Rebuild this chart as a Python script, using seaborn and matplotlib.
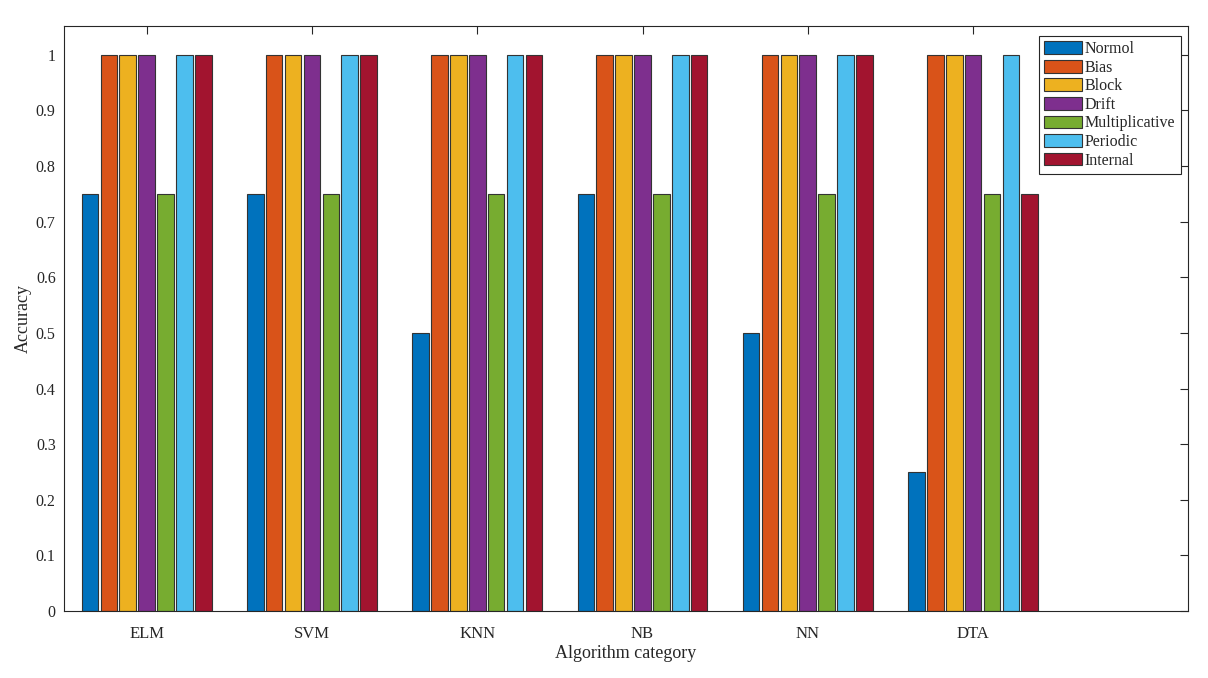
import matplotlib
matplotlib.use("Agg")
import matplotlib.pyplot as plt
import seaborn as sns
import pandas as pd

categories = ["ELM", "SVM", "KNN", "NB", "NN", "DTA"]
series = ["Normol", "Bias", "Block", "Drift", "Multiplicative", "Periodic", "Internal"]
normol = [0.75, 0.75, 0.5, 0.75, 0.5, 0.25]
bias = [1, 1, 1, 1, 1, 1]
block = [1, 1, 1, 1, 1, 1]
drift = [1, 1, 1, 1, 1, 1]
multiplicative = [0.75, 0.75, 0.75, 0.75, 0.75, 0.75]
periodic = [1, 1, 1, 1, 1, 1]
internal = [1, 1, 1, 1, 1, 0.75]
colors = ["#0072BD", "#D95319", "#EDB120", "#7E2F8E", "#77AC30", "#4DBEEE", "#A2142F"]
yticks = [0, 0.1, 0.2, 0.3, 0.4, 0.5, 0.6, 0.7, 0.8, 0.9, 1]

vals = [normol, bias, block, drift, multiplicative, periodic, internal]
rows = []
for s, v in zip(series, vals):
    for c, y in zip(categories, v):
        rows.append({"Algorithm": c, "Series": s, "Accuracy": y})
df = pd.DataFrame(rows)

sns.set_style("white")
plt.rcParams["font.family"] = ["Liberation Serif", "DejaVu Serif"]

fig = plt.figure(figsize=(12.08, 6.78), dpi=100)
ax = fig.add_axes([0.053, 0.0988, 0.9304, 0.8629])
sns.barplot(data=df, x="Algorithm", y="Accuracy", hue="Series", order=categories,
            hue_order=series, palette=colors, width=0.8, gap=0.12,
            edgecolor="#333333", linewidth=0.8, saturation=1, ax=ax)

ax.set_xlim(-0.5, 6.3)
ax.set_ylim(0, 1.052)
ax.set_yticks(yticks)
ax.set_yticklabels([f"{t:g}" for t in yticks])
ax.tick_params(direction="in", top=True, right=True, length=6, width=0.8,
               colors="#262626", labelsize=11.5, labelcolor="#262626")
ax.tick_params(axis="x", pad=11, labelsize=12)
ax.tick_params(axis="y", pad=6)
for sp in ax.spines.values():
    sp.set_visible(True)
    sp.set_color("#262626")
    sp.set_linewidth(0.8)
ax.set_xlabel("Algorithm category", fontsize=13, color="#262626", labelpad=2)
ax.set_ylabel("Accuracy", fontsize=13, color="#262626", labelpad=3)

leg = ax.legend(loc="upper right", bbox_to_anchor=(0.9935, 0.983), fontsize=11.5,
                frameon=True, fancybox=False, edgecolor="#262626", framealpha=1,
                handlelength=2.4, handleheight=0.85, handletextpad=0.15,
                labelspacing=0.16, borderpad=0.33, borderaxespad=0)
leg.get_frame().set_linewidth(0.8)

fig.savefig("out.png", dpi=100)
